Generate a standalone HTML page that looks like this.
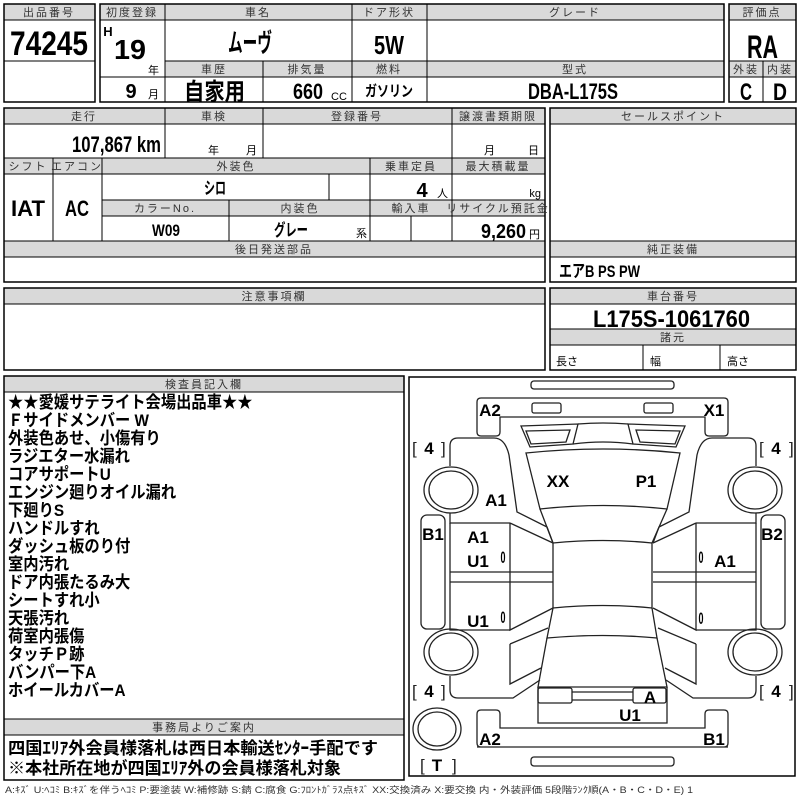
<!DOCTYPE html>
<html><head><meta charset="utf-8"><style>
html,body{margin:0;padding:0;background:#fff;}
svg{display:block;}
text{font-family:"Liberation Sans","Noto Sans CJK JP",sans-serif;}
.h{font-size:11px;fill:#333;text-anchor:middle;letter-spacing:2px;}
.b{font-weight:bold;fill:#000;text-anchor:middle;}
.bs{text-anchor:start;}
.s{font-size:11px;fill:#000;}
.hf{fill:#d9d9d9;stroke:none;}
.ln{stroke:#000;stroke-width:1;fill:none;}
.bx{stroke:#000;stroke-width:1.5;fill:none;}
.c{stroke:#222;stroke-width:1.3;fill:none;}
.d{font-weight:bold;font-size:17px;fill:#000;text-anchor:middle;}
.t{font-weight:bold;font-size:17px;fill:#000;}
</style></head><body>
<svg width="800" height="800" viewBox="0 0 800 800" xmlns="http://www.w3.org/2000/svg">
<!-- block 1 -->
<rect class="hf" x="4" y="4" width="91" height="16"/>
<rect class="bx" x="4" y="4" width="91" height="98"/>
<path class="ln" d="M4,20H95M4,61H95"/>
<text class="h" x="49" y="16">出品番号</text>
<text class="b bs" x="10" y="55" font-size="34" textLength="78" lengthAdjust="spacingAndGlyphs">74245</text>
<!-- block 2 -->
<rect class="hf" x="100" y="4" width="624" height="16"/>
<rect class="hf" x="165" y="61" width="559" height="16"/>
<rect class="bx" x="100" y="4" width="624" height="98"/>
<path class="ln" d="M100,20H724M165,61H724M100,77H724M165,4V102M352,4V102M427,4V102M263,61V102"/>
<text class="h" x="132" y="16" letter-spacing="0">初度登録</text>
<text class="b" x="108" y="36" font-size="13">H</text>
<text class="b bs" x="114" y="59" font-size="28" textLength="32" lengthAdjust="spacingAndGlyphs">19</text>
<text class="s" x="148" y="74">年</text>
<text class="b" x="131" y="98" font-size="20">9</text>
<text class="s" x="148" y="98">月</text>
<text class="h" x="258" y="16">車名</text>
<text class="b bs" x="228" y="52" font-size="26" textLength="44" lengthAdjust="spacingAndGlyphs">ムーヴ</text>
<text class="h" x="389" y="16" letter-spacing="0">ドア形状</text>
<text class="b" x="389" y="54" font-size="26" textLength="30" lengthAdjust="spacingAndGlyphs">5W</text>
<text class="h" x="575" y="16" letter-spacing="8">グレード</text>
<text class="h" x="214" y="73">車歴</text>
<text class="h" x="307" y="73">排気量</text>
<text class="h" x="389" y="73">燃料</text>
<text class="h" x="575" y="73">型式</text>
<text class="b bs" x="184" y="100" font-size="24" textLength="61" lengthAdjust="spacingAndGlyphs">自家用</text>
<text class="b bs" x="293" y="99" font-size="22" textLength="30" lengthAdjust="spacingAndGlyphs">660</text>
<text class="s" x="331" y="100">CC</text>
<text class="b bs" x="365" y="96" font-size="15" textLength="48" lengthAdjust="spacingAndGlyphs">ガソリン</text>
<text class="b bs" x="528" y="99" font-size="22" textLength="90" lengthAdjust="spacingAndGlyphs">DBA-L175S</text>
<!-- rating -->
<rect class="hf" x="729" y="4" width="67" height="16"/>
<rect class="hf" x="729" y="61" width="67" height="16"/>
<rect class="bx" x="729" y="4" width="67" height="98"/>
<path class="ln" d="M729,20H796M729,61H796M729,77H796M763,61V102"/>
<text class="h" x="762" y="16" letter-spacing="0">評価点</text>
<text class="b bs" x="747" y="58" font-size="32" textLength="31" lengthAdjust="spacingAndGlyphs">RA</text>
<text class="h" x="746" y="73" letter-spacing="0">外装</text>
<text class="h" x="780" y="73" letter-spacing="0">内装</text>
<text class="b" x="746" y="100" font-size="24" textLength="12" lengthAdjust="spacingAndGlyphs">C</text>
<text class="b" x="780" y="100" font-size="24" textLength="14" lengthAdjust="spacingAndGlyphs">D</text>
<!-- section 2 left -->
<rect class="hf" x="4" y="108" width="541" height="16"/>
<rect class="hf" x="4" y="158" width="541" height="16"/>
<rect class="hf" x="102" y="200" width="443" height="16"/>
<rect class="hf" x="4" y="241" width="541" height="16"/>
<rect class="bx" x="4" y="108" width="541" height="174"/>
<path class="ln" d="M4,124H545M4,158H545M4,174H545M102,200H545M102,216H545M4,241H545M4,257H545M165,108V158M263,108V158M452,108V241M53,158V241M102,158V241M370,158V241M329,174V200M229,200V241M411,216V241"/>
<text class="h" x="84" y="120">走行</text>
<text class="h" x="214" y="120">車検</text>
<text class="h" x="357" y="120">登録番号</text>
<text class="h" x="498" y="120" letter-spacing="0">譲渡書類期限</text>
<text class="b bs" x="72" y="152" font-size="22" textLength="89" lengthAdjust="spacingAndGlyphs">107,867 km</text>
<text class="s" x="208" y="154">年</text>
<text class="s" x="246" y="154">月</text>
<text class="s" x="484" y="154">月</text>
<text class="s" x="528" y="154">日</text>
<text class="h" x="28" y="170" letter-spacing="0">シフト</text>
<text class="h" x="77" y="170" letter-spacing="0">エアコン</text>
<text class="h" x="236" y="170">外装色</text>
<text class="h" x="411" y="170" letter-spacing="0">乗車定員</text>
<text class="h" x="498" y="170" letter-spacing="0">最大積載量</text>
<text class="b" x="215" y="194" font-size="17" textLength="22" lengthAdjust="spacingAndGlyphs">シロ</text>
<text class="b" x="422" y="197" font-size="20">4</text>
<text class="s" x="437" y="197">人</text>
<text class="s" x="541" y="197" text-anchor="end">kg</text>
<text class="b" x="28" y="216" font-size="22" textLength="34" lengthAdjust="spacingAndGlyphs">IAT</text>
<text class="b" x="77" y="216" font-size="22" textLength="24" lengthAdjust="spacingAndGlyphs">AC</text>
<text class="h" x="165" y="212" letter-spacing="6">カラーNo.</text>
<text class="h" x="300" y="212">内装色</text>
<text class="h" x="411" y="212">輸入車</text>
<text class="h" x="498" y="212" letter-spacing="0">リサイクル預託金</text>
<text class="b" x="166" y="236" font-size="17" textLength="28" lengthAdjust="spacingAndGlyphs">W09</text>
<text class="b" x="291" y="236" font-size="17" textLength="34" lengthAdjust="spacingAndGlyphs">グレー</text>
<text class="s" x="356" y="237">系</text>
<text class="b bs" x="481" y="238" font-size="20" textLength="45" lengthAdjust="spacingAndGlyphs">9,260</text>
<text class="s" x="529" y="238">円</text>
<text class="h" x="274" y="253">後日発送部品</text>
<!-- section 2 right -->
<rect class="hf" x="550" y="108" width="246" height="16"/>
<rect class="hf" x="550" y="241" width="246" height="16"/>
<rect class="bx" x="550" y="108" width="246" height="174"/>
<path class="ln" d="M550,124H796M550,241H796M550,257H796"/>
<text class="h" x="673" y="120" letter-spacing="7">セールスポイント</text>
<text class="h" x="673" y="253">純正装備</text>
<text class="t" x="559" y="277" font-size="17" textLength="81" lengthAdjust="spacingAndGlyphs">エアB PS PW</text>
<!-- section 3 -->
<rect class="hf" x="4" y="288" width="541" height="16"/>
<rect class="bx" x="4" y="288" width="541" height="82"/>
<path class="ln" d="M4,304H545"/>
<text class="h" x="274" y="300">注意事項欄</text>
<rect class="hf" x="550" y="288" width="246" height="16"/>
<rect class="hf" x="550" y="329" width="246" height="16"/>
<rect class="bx" x="550" y="288" width="246" height="82"/>
<path class="ln" d="M550,304H796M550,329H796M550,345H796M643,345V370M720,345V370"/>
<text class="h" x="673" y="300">車台番号</text>
<text class="b bs" x="593" y="327" font-size="24" textLength="157" lengthAdjust="spacingAndGlyphs">L175S-1061760</text>
<text class="h" x="673" y="341">諸元</text>
<text class="s" x="556" y="365">長さ</text>
<text class="s" x="650" y="365">幅</text>
<text class="s" x="727" y="365">高さ</text>
<!-- section 4 left -->
<rect class="hf" x="4" y="376" width="400" height="16"/>
<rect class="hf" x="4" y="719" width="400" height="16"/>
<rect class="bx" x="4" y="376" width="400" height="404"/>
<path class="ln" d="M4,392H404M4,719H404M4,735H404"/>
<text class="h" x="204" y="388">検査員記入欄</text>
<g transform="translate(8,0) scale(0.9,1) translate(-8,0)">
<text class="t" x="8" y="408">★★愛媛サテライト会場出品車★★</text>
<text class="t" x="8" y="426">Ｆサイドメンバー W</text>
<text class="t" x="8" y="444">外装色あせ、小傷有り</text>
<text class="t" x="8" y="462">ラジエター水漏れ</text>
<text class="t" x="8" y="480">コアサポートU</text>
<text class="t" x="8" y="498">エンジン廻りオイル漏れ</text>
<text class="t" x="8" y="516">下廻りS</text>
<text class="t" x="8" y="534">ハンドルすれ</text>
<text class="t" x="8" y="552">ダッシュ板のり付</text>
<text class="t" x="8" y="570">室内汚れ</text>
<text class="t" x="8" y="588">ドア内張たるみ大</text>
<text class="t" x="8" y="606">シートすれ小</text>
<text class="t" x="8" y="624">天張汚れ</text>
<text class="t" x="8" y="642">荷室内張傷</text>
<text class="t" x="8" y="660">タッチＰ跡</text>
<text class="t" x="8" y="678">バンパー下A</text>
<text class="t" x="8" y="696">ホイールカバーA</text>
</g>
<text class="h" x="204" y="731" letter-spacing="6">事務局よりご案内</text>
<text class="t" x="8" y="754" textLength="370" lengthAdjust="spacingAndGlyphs">四国ｴﾘｱ外会員様落札は西日本輸送ｾﾝﾀｰ手配です</text>
<text class="t" x="8" y="774" textLength="333" lengthAdjust="spacingAndGlyphs">※本社所在地が四国ｴﾘｱ外の会員様落札対象</text>
<text x="5" y="793" font-size="9" fill="#333" textLength="688" lengthAdjust="spacingAndGlyphs">A:ｷｽﾞ U:ﾍｺﾐ B:ｷｽﾞを伴うﾍｺﾐ P:要塗装 W:補修跡 S:錆 C:腐食 G:ﾌﾛﾝﾄｶﾞﾗｽ点ｷｽﾞ XX:交換済み X:要交換 内・外装評価 5段階ﾗﾝｸ順(A・B・C・D・E) 1</text>
<!-- diagram -->
<rect class="bx" x="409" y="377" width="386" height="399"/>
<g class="c">
<rect x="531" y="381" width="143" height="8" rx="3"/>
<rect x="531" y="757" width="143" height="9" rx="3"/>
<path d="M481,398H724Q728,398 728,402V432Q728,436 724,436H709Q705,436 705,432V417H500V432Q500,436 496,436H481Q477,436 477,432V402Q477,398 481,398Z"/>
<rect x="532" y="403" width="29" height="10" rx="2"/>
<rect x="644" y="403" width="29" height="10" rx="2"/>
<path d="M477,747H728M481,710H496Q500,710 500,714V728H705V714Q705,710 709,710H724Q728,710 728,714V743Q728,747 724,747H481Q477,747 477,743V714Q477,710 481,710Z"/>
<path d="M521,426L578,424L573,444L530,447Z M526,431L570,430L566,442L531,444Z"/>
<path d="M685,426L628,424L633,444L676,447Z M680,431L636,430L640,442L675,444Z"/>
<path d="M578,424Q603,422 628,424 M573,444Q603,440 633,444"/>
<path d="M526,453Q603,445 680,453L667,509Q603,502 540,509Z"/>
<path d="M540,509L553,543Q603,538 652,543L667,509"/>
<path d="M553,543V608Q603,603 652,608V543"/>
<path d="M553,608L547,638Q603,633 657,638L652,608"/>
<path d="M547,638L538,687H667L657,638"/>
<path d="M538,687V723H667V687"/>
<rect x="538" y="688" width="34" height="15" rx="2"/>
<rect x="633" y="688" width="33" height="15" rx="2"/>
<path d="M572,692H633M572,700H633"/>
<g id="side">
<path d="M450,466V446Q450,438 458,438H494Q505,438 509,455L517,512L547,527L553,543"/>
<path d="M450,513V523H510"/>
<ellipse cx="451" cy="490" rx="27" ry="23"/>
<ellipse cx="451" cy="490" rx="22" ry="19"/>
<path d="M450,523V630H510V523M510,523L553,543M450,572H553M450,582H553M510,582V630L553,608"/>
<rect x="421" y="515" width="24" height="114" rx="6"/>
<path d="M510,644L548,628M510,644V684L541,668"/>
<path d="M450,676V690Q450,698 458,698H513L540,680"/>
<ellipse cx="451" cy="652" rx="27" ry="23"/>
<ellipse cx="451" cy="652" rx="22" ry="19"/>
</g>
<use href="#side" transform="matrix(-1,0,0,1,1206,0)"/>
<ellipse cx="437" cy="729" rx="24" ry="21"/>
<ellipse cx="437" cy="729" rx="19" ry="17"/>
</g>
<g font-size="17" fill="#222">
<text x="412" y="454">[</text><text x="429" y="454" class="d">4</text><text x="441" y="454">]</text>
<text x="759" y="454">[</text><text x="776" y="454" class="d">4</text><text x="789" y="454">]</text>
<text x="412" y="697">[</text><text x="429" y="697" class="d">4</text><text x="441" y="697">]</text>
<text x="759" y="697">[</text><text x="776" y="697" class="d">4</text><text x="789" y="697">]</text>
<text x="420" y="771">[</text><text x="437" y="771" class="d">T</text><text x="452" y="771">]</text>
</g>
<g>
<text class="d" x="490" y="416">A2</text>
<text class="d" x="714" y="416">X1</text>
<text class="d" x="496" y="506">A1</text>
<text class="d" x="558" y="487">XX</text>
<text class="d" x="646" y="487">P1</text>
<text class="d" x="433" y="540">B1</text>
<text class="d" x="478" y="543">A1</text>
<text class="d" x="478" y="567">U1</text>
<text class="d" x="503" y="563" font-size="12" font-weight="normal" textLength="5" lengthAdjust="spacingAndGlyphs">0</text>
<text class="d" x="772" y="540">B2</text>
<text class="d" x="701" y="563" font-size="12" font-weight="normal" textLength="5" lengthAdjust="spacingAndGlyphs">0</text>
<text class="d" x="725" y="567">A1</text>
<text class="d" x="478" y="627">U1</text>
<text class="d" x="503" y="623" font-size="12" font-weight="normal" textLength="5" lengthAdjust="spacingAndGlyphs">0</text>
<text class="d" x="701" y="624" font-size="12" font-weight="normal" textLength="5" lengthAdjust="spacingAndGlyphs">0</text>
<text class="d" x="650" y="703">A</text>
<text class="d" x="630" y="721">U1</text>
<text class="d" x="490" y="745">A2</text>
<text class="d" x="714" y="745">B1</text>
</g>
</svg>
</body></html>
